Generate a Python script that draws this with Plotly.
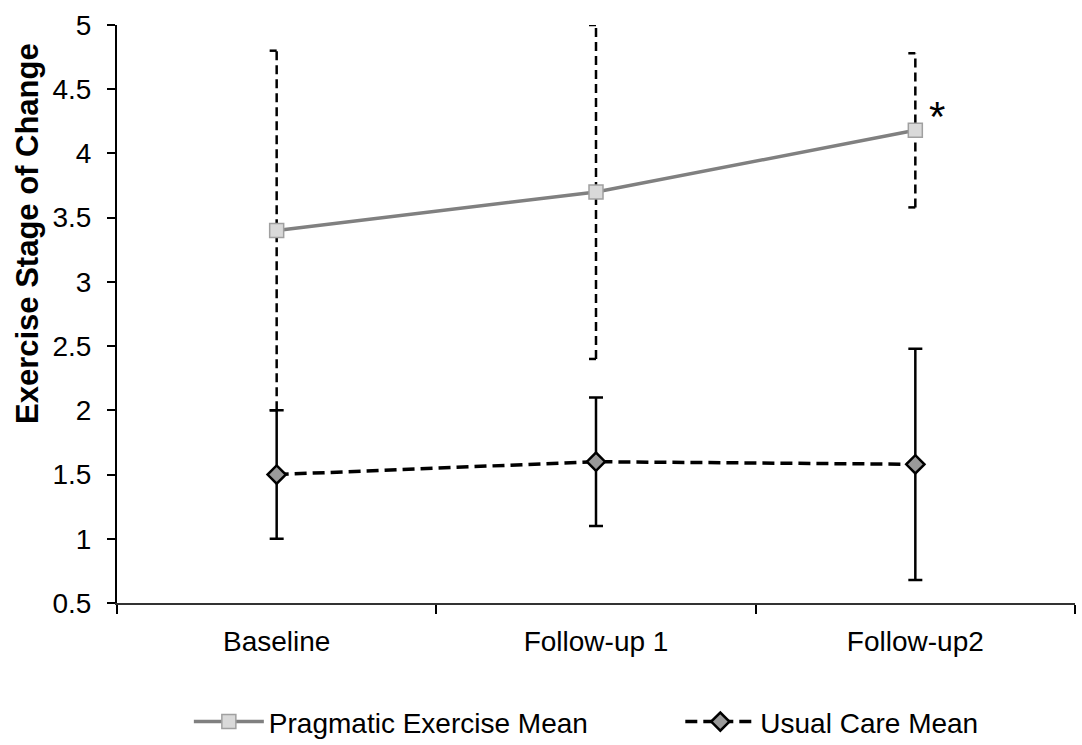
import plotly.graph_objects as go

categories = ["Baseline", "Follow-up 1", "Follow-up2"]
pragmatic_mean = [3.4, 3.7, 4.18]
pragmatic_err = [1.4, 1.3, 0.6]
usual_mean = [1.5, 1.6, 1.58]
usual_err = [0.5, 0.5, 0.9]
y_ticks = [0.5, 1, 1.5, 2, 2.5, 3, 3.5, 4, 4.5, 5]

xpos = list(range(len(categories)))
FONT = "Liberation Sans, Arial, sans-serif"

fig = go.Figure()

# Pragmatic dashed error bars
for i, (m, e) in enumerate(zip(pragmatic_mean, pragmatic_err)):
    fig.add_trace(go.Scatter(
        x=[xpos[i], xpos[i]], y=[m - e, m + e], mode="lines",
        line=dict(color="black", width=2.5, dash="9px,5px"),
        showlegend=False, hoverinfo="skip"))
# Half caps (left side)
cap_x, cap_y = [], []
for i, (m, e) in enumerate(zip(pragmatic_mean, pragmatic_err)):
    for yy in (m - e, m + e):
        cap_x += [xpos[i] - 0.022, xpos[i], None]
        cap_y += [yy, yy, None]
fig.add_trace(go.Scatter(x=cap_x, y=cap_y, mode="lines",
                         line=dict(color="black", width=2.5),
                         showlegend=False, hoverinfo="skip"))

# Usual care
fig.add_trace(go.Scatter(
    x=xpos, y=usual_mean, mode="lines+markers", name="Usual Care Mean",
    legend="legend2",
    line=dict(color="black", width=3.5, dash="12px,6px"),
    marker=dict(symbol="diamond", size=14, color="#9a9a9a",
                line=dict(color="black", width=2.5)),
    error_y=dict(type="data", array=usual_err, visible=True,
                 color="black", thickness=2.5, width=7)))

# Pragmatic
fig.add_trace(go.Scatter(
    x=xpos, y=pragmatic_mean, mode="lines+markers", name="Pragmatic Exercise Mean",
    legend="legend",
    line=dict(color="#808080", width=3.5),
    marker=dict(symbol="square", size=14, color="#d9d9d9",
                line=dict(color="#a0a0a0", width=1.5))))

fig.add_annotation(x=xpos[2], y=pragmatic_mean[2], text="*", showarrow=False,
                   xshift=22, yshift=14,
                   font=dict(size=42, color="black", family=FONT))

fig.add_annotation(xref="paper", yref="paper", x=-0.094, y=0.64,
                   xanchor="center", yanchor="middle", textangle=-90,
                   text="<b>Exercise Stage of Change</b>", showarrow=False,
                   font=dict(size=31, color="black", family=FONT))

fig.update_layout(
    width=1082, height=745,
    margin=dict(l=117, r=7, t=25, b=142, autoexpand=False),
    paper_bgcolor="white", plot_bgcolor="white",
    font=dict(family=FONT, size=28, color="black"),
    legend=dict(orientation="h", x=0.075, xanchor="left",
                yref="container", y=0.031, yanchor="middle",
                itemwidth=70, font=dict(size=28, family=FONT)),
    legend2=dict(orientation="h", x=0.588, xanchor="left",
                 yref="container", y=0.031, yanchor="middle",
                 itemwidth=70, font=dict(size=28, family=FONT)),
    xaxis=dict(range=[-0.5, 2.5], tickvals=xpos, ticktext=categories,
               ticks="", showline=True, linecolor="#333333", linewidth=2,
               showgrid=False, zeroline=False, ticklabelstandoff=12,
               minor=dict(tickvals=[-0.5, 0.5, 1.5, 2.5], ticks="outside",
                          ticklen=9, tickcolor="black", tickwidth=1.5, showgrid=False),
               tickfont=dict(size=28)),
    yaxis=dict(range=[0.5, 5], tickvals=y_ticks, ticktext=[str(v) for v in y_ticks],
               ticks="outside", ticklen=8, tickcolor="black", tickwidth=1.5,
               showline=True, linecolor="black", linewidth=2,
               showgrid=False, zeroline=False, ticklabelstandoff=10,
               tickfont=dict(size=28)),
)

fig.write_html("out.html", config={"displayModeBar": False},
               post_script="document.body.style.margin='0px';")
